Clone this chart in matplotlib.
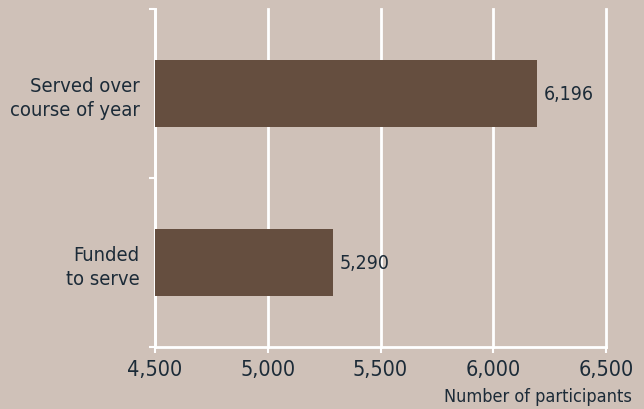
import matplotlib
matplotlib.use("Agg")
import matplotlib.pyplot as plt
from matplotlib.ticker import FuncFormatter, FixedLocator

categories = ["Served over\ncourse of year", "Funded\nto serve"]
values = [6196, 5290]
x_ticks = [4500, 5000, 5500, 6000, 6500]
x_label = "Number of participants"

bg = "#cfc1b8"
bar_color = "#654e3f"
text_color = "#1c2b38"

plt.rcParams["font.family"] = ["DejaVu Sans"]
plt.rcParams["font.stretch"] = "condensed"

fig = plt.figure(figsize=(6.44, 4.10), dpi=100, facecolor=bg)
ax = fig.add_axes([155 / 644, 1 - 348 / 410, (606 - 155) / 644, (348 - 10) / 410])
ax.set_facecolor(bg)

pos = [1, 0]
ax.barh(pos, [v - x_ticks[0] for v in values], left=x_ticks[0], height=0.4,
        color=bar_color, zorder=3)
for p, v in zip(pos, values):
    ax.text(v + 30, p, f"{v:,}", va="center", ha="left", fontsize=14,
            color=text_color, zorder=4)

ax.set_xlim(x_ticks[0], x_ticks[-1])
ax.set_ylim(-0.5, 1.5)
ax.set_xticks(x_ticks)
ax.xaxis.set_major_formatter(FuncFormatter(lambda v, _: f"{int(v):,}"))
ax.grid(axis="x", color="white", linewidth=2, zorder=1)
for gl in ax.get_xgridlines():
    gl.set_clip_on(False)

ax.set_yticks(pos)
ax.set_yticklabels(categories, fontsize=14.5, color=text_color, linespacing=1.3)
ax.yaxis.set_minor_locator(FixedLocator([-0.5, 0.5, 1.5]))
ax.tick_params(axis="y", which="major", length=0, pad=11)
ax.tick_params(axis="y", which="minor", length=4, width=1.5, color="white")
ax.tick_params(axis="x", length=4, width=1.5, color="white", labelsize=15.5,
               labelcolor=text_color, pad=5)

for s in ["top", "right"]:
    ax.spines[s].set_visible(False)
for s in ["left", "bottom"]:
    ax.spines[s].set_color("white")
    ax.spines[s].set_linewidth(2)

fig.text(632 / 644, 1 - 397 / 410, x_label, ha="right", va="center",
         fontsize=13, color=text_color)

fig.savefig("out.png", dpi=100, facecolor=bg)
